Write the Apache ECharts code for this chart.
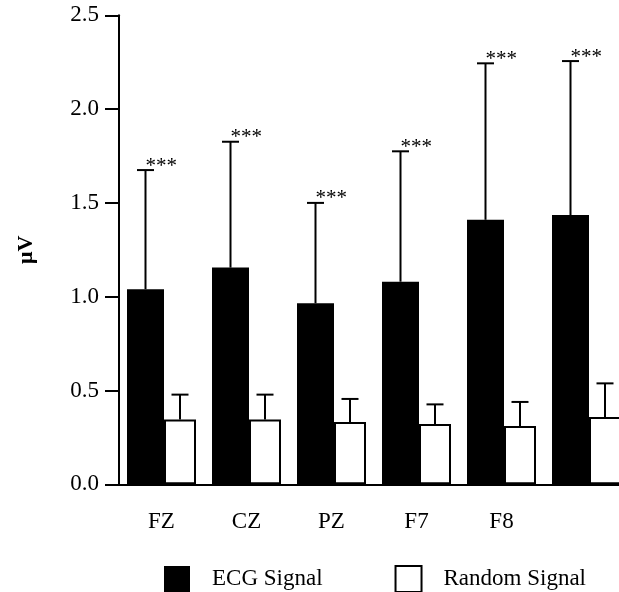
<!DOCTYPE html>
<html>
<head>
<meta charset="utf-8">
<script src="https://cdn.jsdelivr.net/npm/echarts@6/dist/echarts.min.js"></script>
<style>
  html, body { margin: 0; padding: 0; background: #fff; }
  #chart { width: 619px; height: 592px; }
</style>
</head>
<body>
<div id="chart"></div>
<script>
// ---- data ----
const categories = ['FZ', 'CZ', 'PZ', 'F7', 'F8', ''];
const ecgMean = [1.04, 1.155, 0.965, 1.08, 1.41, 1.435];
const ecgSD = [0.635, 0.671, 0.535, 0.695, 0.834, 0.821];
const randomMean = [0.346, 0.346, 0.332, 0.321, 0.311, 0.359];
const randomSD = [0.132, 0.132, 0.123, 0.105, 0.128, 0.179];
const significance = ['***', '***', '***', '***', '***', '***'];
const yTicks = [0, 0.5, 1.0, 1.5, 2.0, 2.5];

const FONT = "'Liberation Serif', 'Times New Roman', serif";
const ECG_W = 37, RND_W = 32;
const ecgOffset = -(ECG_W + RND_W) / 2 + ECG_W / 2;
const rndOffset = -(ECG_W + RND_W) / 2 + ECG_W + RND_W / 2;

function errorSeries(name, means, sds, offset, labels) {
  return {
    type: 'custom',
    name: name + ' err',
    z: 5,
    silent: true,
    data: means.map((m, i) => [i, m, sds[i]]),
    renderItem: function (params, api) {
      const idx = api.value(0), m = api.value(1), sd = api.value(2);
      const top = api.coord([idx, m + sd]);
      const bot = api.coord([idx, m]);
      const x = top[0] + offset;
      const children = [
        { type: 'line', shape: { x1: x, y1: bot[1], x2: x, y2: top[1] },
          style: { stroke: '#000', lineWidth: 2 } },
        { type: 'line', shape: { x1: x - 8.5, y1: top[1], x2: x + 8.5, y2: top[1] },
          style: { stroke: '#000', lineWidth: 2 } }
      ];
      if (labels) {
        children.push({ type: 'text', style: {
          text: labels[idx], x: x, y: top[1] - 4, fill: '#000',
          font: '21px ' + FONT, align: 'left', verticalAlign: 'middle' } });
      }
      return { type: 'group', children: children };
    }
  };
}

const chart = echarts.init(document.getElementById('chart'), null, { renderer: 'canvas' });
chart.setOption({
  backgroundColor: '#fff',
  animation: false,
  grid: { left: 119, top: 15.3, width: 510, height: 469, containLabel: false, outerBoundsMode: 'none' },
  legend: {
    left: 164, top: 565, padding: 0,
    itemWidth: 26, itemHeight: 26, itemGap: 72,
    icon: 'rect',
    textStyle: { fontFamily: FONT, fontSize: 23, color: '#000', padding: [0, 0, 0, 17] },
    data: [
      { name: 'ECG Signal', itemStyle: { color: '#000', borderWidth: 0 } },
      { name: 'Random Signal', itemStyle: { color: '#fff', borderColor: '#000', borderWidth: 2 } }
    ]
  },
  xAxis: {
    type: 'category',
    data: categories,
    axisLine: { lineStyle: { color: '#000', width: 2 } },
    axisTick: { length: 14, lineStyle: { color: '#000', width: 2 } },
    axisLabel: { fontFamily: FONT, fontSize: 23, color: '#000', margin: 26 }
  },
  yAxis: {
    type: 'value',
    min: 0, max: 2.5, interval: 0.5,
    name: 'μV',
    nameLocation: 'middle',
    nameRotate: 90,
    nameGap: 82,
    nameTextStyle: { fontFamily: FONT, fontSize: 22, fontWeight: 'bold', color: '#000' },
    axisLine: { show: true, lineStyle: { color: '#000', width: 2 } },
    axisTick: { show: true, length: 14, lineStyle: { color: '#000', width: 2 } },
    splitLine: { show: false },
    axisLabel: {
      fontFamily: FONT, fontSize: 23, color: '#000', margin: 20,
      formatter: function (v) { return yTicks.indexOf(v) >= 0 ? v.toFixed(1) : ''; }
    }
  },
  series: [
    { name: 'ECG Signal', type: 'bar', data: ecgMean, barWidth: ECG_W, barGap: '0%',
      itemStyle: { color: '#000' } },
    { name: 'Random Signal', type: 'bar', data: randomMean, barWidth: RND_W, barGap: '0%',
      itemStyle: { color: '#fff', borderColor: '#000', borderWidth: 2 } },
    errorSeries('ECG Signal', ecgMean, ecgSD, ecgOffset, significance),
    errorSeries('Random Signal', randomMean, randomSD, rndOffset, null)
  ]
});
</script>
</body>
</html>
